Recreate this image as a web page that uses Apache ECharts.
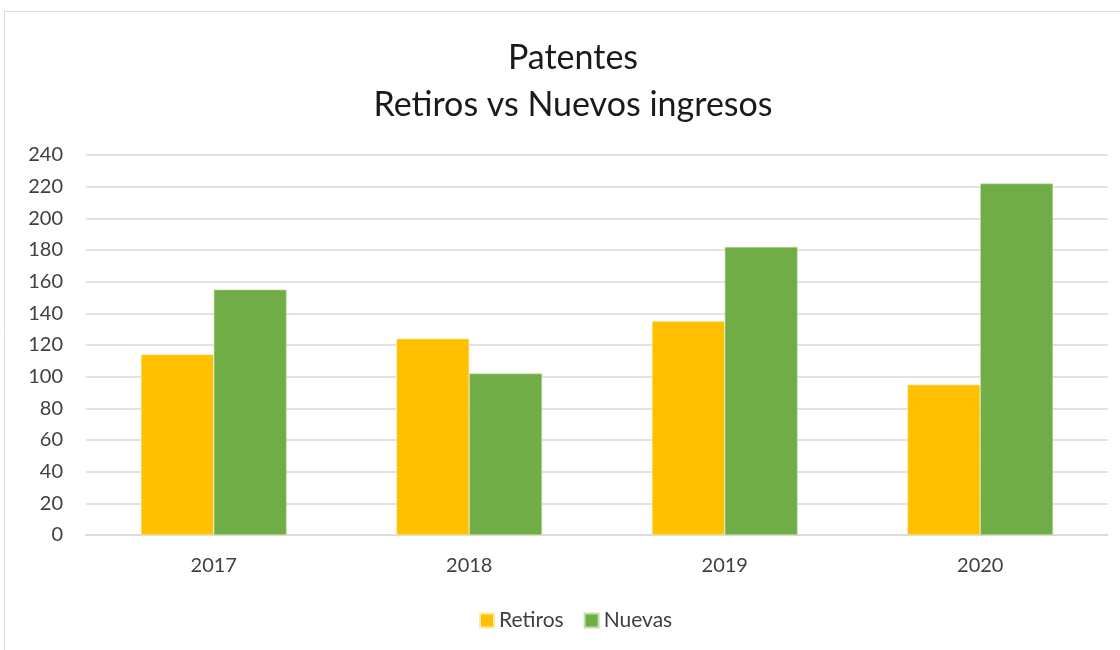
<!DOCTYPE html>
<html>
<head>
<meta charset="utf-8">
<script src="https://cdn.jsdelivr.net/npm/echarts@6/dist/echarts.min.js"></script>
<style>
  html, body { margin: 0; padding: 0; background: #fff; }
  #chart { width: 1120px; height: 650px; }
</style>
</head>
<body>
<div id="chart"></div>
<script>
var years = ['2017', '2018', '2019', '2020'];
var retiros = [114, 124, 135, 95];
var nuevas = [155, 102, 182, 222];
var yTicks = { min: 0, max: 240, step: 20 };

var chart = echarts.init(document.getElementById('chart'));

var txt = '#404040';
var font = 'Lato, "Open Sans", sans-serif';

chart.setOption({
    animation: false,
    textStyle: { fontFamily: font },
    // marco gris del area de grafico
    graphic: [{
        type: 'rect',
        shape: { x: 4.5, y: 11.5, width: 1130, height: 650 },
        style: { fill: 'none', stroke: '#d9d9d9', lineWidth: 1 },
        silent: true
    }],
    title: {
        text: 'Patentes\nRetiros vs Nuevos ingresos',
        left: 568,
        textAlign: 'center',
        top: 30,
        textStyle: {
            fontFamily: font,
            fontWeight: 'normal',
            fontSize: 34,
            lineHeight: 47,
            color: '#1a1a1a'
        }
    },
    legend: {
        bottom: 14,
        left: 474,
        itemWidth: 14,
        itemHeight: 14,
        itemGap: 20,
        icon: 'rect',
        textStyle: { fontFamily: font, fontSize: 21, color: txt }
    },
    grid: { left: 86, right: 12, top: 155, bottom: 115 },
    xAxis: {
        type: 'category',
        data: years,
        axisTick: { show: false },
        axisLine: { lineStyle: { color: '#d9d9d9', width: 1.5 } },
        axisLabel: { fontSize: 20, color: txt, margin: 21 }
    },
    yAxis: {
        type: 'value',
        min: yTicks.min,
        max: yTicks.max,
        interval: yTicks.step,
        axisLine: { show: false },
        axisTick: { show: false },
        axisLabel: { fontSize: 20, color: txt, margin: 23 },
        splitLine: { lineStyle: { color: '#d9d9d9', width: 1.5 } }
    },
    series: [
        {
            name: 'Retiros',
            type: 'bar',
            data: retiros,
            barGap: '0%',
            barCategoryGap: '43%',
            itemStyle: { color: '#FFC000', borderColor: '#ffe9a6', borderWidth: 0.6 }
        },
        {
            name: 'Nuevas',
            type: 'bar',
            data: nuevas,
            itemStyle: { color: '#70AD47', borderColor: '#c3dfb0', borderWidth: 0.6 }
        }
    ]
});
</script>
</body>
</html>
